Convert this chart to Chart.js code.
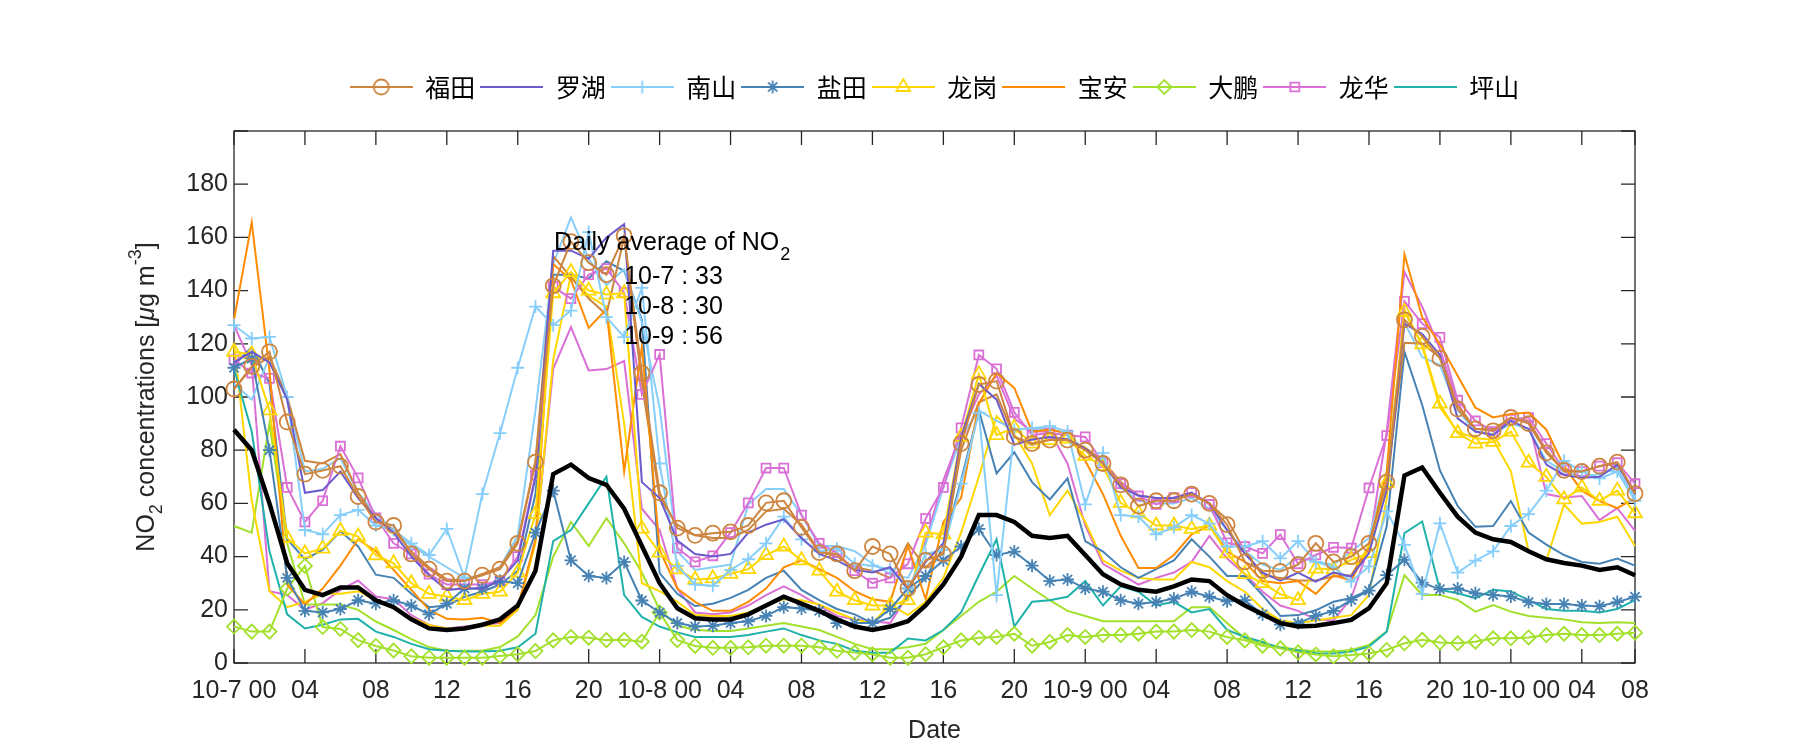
<!DOCTYPE html>
<html>
<head>
<meta charset="utf-8">
<script src="https://cdn.jsdelivr.net/npm/chart.js@4.4.1/dist/chart.umd.min.js"></script>
<style>
  body { margin: 0; background: #fff; }
</style>
</head>
<body>
<canvas id="myChart" width="1800" height="750"></canvas>
<script>
const hours = Array.from({ length: 80 }, (_, i) => i);
const tickHours = [0, 4, 8, 12, 16, 20, 24, 28, 32, 36, 40, 44, 48, 52, 56, 60, 64, 68, 72, 76, 79];
const tickLabels = ["10-7 00", "04", "08", "12", "16", "20", "10-8 00", "04", "08", "12", "16", "20",
  "10-9 00", "04", "08", "12", "16", "20", "10-10 00", "04", "08"];

// station series, hourly from 10-7 00
const futian = [
  103, 111.5, 117, 90.6, 71, 72.4, 74, 62.6, 53, 51.7,
  41, 35.3, 30.8, 30.8, 33, 35.3, 45, 75.5, 141.8, 158.4,
  150.5, 146, 160.6, 109, 64, 50.7, 48, 48.8, 49.3, 51.7,
  60.2, 61, 51, 41.5, 41, 34.7, 43.8, 41, 28, 38.6,
  41, 82.5, 104.7, 106, 85, 82.5, 83.8, 83.8, 80, 75,
  67, 59, 61, 61, 63.5, 60, 52, 38, 34.7, 34.4,
  37, 45, 38, 40, 45, 68, 129, 122.8, 114.5, 95.5,
  88, 87.3, 92.3, 90, 79, 72.4, 72, 74, 75.5, 63.7];
const futian2 = [
  103, 111, 115, 100, 76, 75, 78.5, 64, 54, 50,
  42, 36, 31.5, 31, 33.5, 36, 46, 76, 153, 145,
  137, 131, 160, 105, 62, 52, 48, 47, 47, 50,
  57, 58, 52, 42, 40, 36, 34.7, 32, 45, 36,
  42, 80, 98, 101, 85, 82, 84, 84, 81, 76,
  68, 63, 62, 62, 63, 60, 54, 42, 33, 32,
  31, 31, 32.5, 33, 44, 68, 120.4, 120, 115, 97,
  88, 88, 92, 91, 80, 72, 72, 74, 75, 64];
const luohu = [
  113, 117, 113, 99, 64, 65, 72, 62, 54.5, 49,
  40, 33, 27.5, 28, 28, 31, 38.6, 70, 155, 155,
  152, 160, 165, 68, 62, 46, 41, 40, 41, 49,
  52, 54, 47, 41, 38.6, 35, 34, 36, 28, 38,
  45, 85, 105, 99, 82, 84, 85, 84, 80.5, 75,
  66, 63, 62, 62, 64, 60, 50, 41, 34, 31,
  34, 30.6, 34, 32.5, 41.3, 65, 127.6, 123.7, 115.8, 92,
  87, 85.7, 91, 88, 74.6, 70.7, 69.6, 70, 74.6, 63.5];
const nanshan = [
  127, 122, 122.6, 100, 50, 48.4, 55.6, 57.6, 51.7, 50,
  45, 40.6, 50.4, 32, 63.5, 86.4, 111, 134, 127, 132.5,
  162, 130, 122.5, 141, 75, 36.5, 29.5, 29, 35, 39,
  45, 55, 46.5, 42, 43, 37.3, 36.6, 35.3, 28, 41,
  42.5, 67.4, 94, 25.5, 87.6, 88.3, 89, 87, 59.6, 79,
  55.6, 55, 48.4, 51, 55.6, 52.4, 43.8, 43.8, 45.8, 39.3,
  45.8, 38, 36, 30.6, 36.3, 57, 44.4, 26, 52.5, 34,
  38.5, 42, 51.5, 56, 64.8, 76, 72, 69.4, 72, 61];
const nanshan2 = [
  105, 99, 115, 100, 72, 73, 77, 64, 56, 50,
  44, 40, 36, 32, 33, 36, 48, 95, 150, 167.5,
  152, 142, 148, 128, 96, 42, 35, 36, 37, 59.6,
  65.4, 65.4, 55.6, 44, 44, 42, 37.3, 33.4, 32, 44.5,
  66, 85, 95, 91, 88, 88, 88, 86, 80, 76,
  66, 61, 60, 60, 62, 58, 50, 42, 37, 35,
  40, 38, 37, 42, 47, 72, 128, 115, 112, 95,
  87, 86, 90, 88, 76, 72, 70, 71, 73, 62];
const yantian = [
  111, 114.5, 80, 32, 19.6, 19, 20.3, 23.6, 22.3, 23.6,
  21.6, 18.3, 22.3, 28, 28, 30.8, 30, 49, 64.8, 38.6,
  32.7, 32, 38, 23.5, 19, 15, 13.7, 14, 15, 15.7,
  17.7, 21, 20.5, 19.6, 15, 15, 15, 20.3, 28, 32.7,
  38.6, 43.8, 50.4, 40.6, 41.9, 36.6, 30.8, 31.4, 28, 26.8,
  23.6, 22.3, 22.9, 24.2, 26.8, 24.9, 23.2, 23.6, 18.3, 14.4,
  15, 17.7, 19.6, 23.7, 27.2, 33, 38.8, 30.2, 27.7, 28,
  26.2, 25.6, 25, 22.9, 22.2, 22.2, 21.6, 21.3, 22.9, 24.9];
const yantian2 = [
  112, 118.7, 105, 46.5, 39, 42.5, 49.5, 43.8, 33.2, 32,
  26, 21, 21.6, 24.9, 26.8, 29.5, 34.7, 63.5, 146, 146,
  144.6, 151, 147.4, 129, 33.8, 26, 21.4, 22.3, 24.5, 27.5,
  32, 34.7, 27.5, 23.6, 20.3, 18.3, 15, 17, 25, 32,
  43.8, 68.7, 95, 71.3, 79.2, 68, 61.5, 69.4, 45.8, 41.9,
  36, 32, 35.3, 38.6, 46.5, 40, 32.7, 32.7, 25.5, 17.7,
  18, 19.8, 23, 24.4, 27.5, 51.4, 117, 97, 72.4, 59,
  51.2, 51.5, 60.9, 49, 44.5, 40.6, 38, 37.3, 39.3, 36.6];
const longgang = [
  117, 116, 95, 47, 41.2, 43, 49.7, 47.5, 40.5, 37.5,
  30, 26, 25, 23.6, 26, 26.8, 34, 56, 139, 147,
  140, 138.5, 139, 50.5, 41.5, 35.2, 31.4, 31.8, 33.5, 35.3,
  40.6, 43.8, 38.6, 34.7, 26.8, 23.6, 21.6, 21.6, 23.6, 49,
  48.4, 85, 108.5, 85.7, 88.4, 82.5, 83.8, 84.4, 77.9, 74,
  60.2, 56.3, 51.7, 51.7, 50.4, 51.7, 41.2, 33.4, 30, 25.9,
  23.6, 35.5, 35.2, 38.8, 41.3, 67.7, 132, 119.8, 97.5, 86.4,
  82.5, 83.1, 87, 75.3, 70, 61.5, 66, 61, 64.8, 56.3];
const longgang2 = [
  120, 61, 27, 21, 23, 26, 26, 27, 23.7, 21,
  17, 14.3, 13, 13, 14, 14, 20, 45, 114, 146,
  138, 134, 90, 30, 27, 23, 18, 17.7, 17.7, 19,
  21.6, 24, 23.6, 22, 19, 16.4, 15, 22, 18, 23,
  32, 49, 70, 92.8, 86, 75, 55.6, 64.8, 53, 38.6,
  34.7, 32, 31.4, 31.4, 38, 36, 30.8, 26.8, 20.3, 16,
  15, 16, 17, 18, 25.6, 62, 132.8, 119, 96, 87,
  84.5, 84, 72, 42, 38.6, 59.6, 52.4, 53, 55, 44];
const baoan = [
  129, 165.6, 110, 29.5, 22, 28, 36.6, 46.5, 42, 35,
  27.5, 20, 16.6, 16.4, 17, 15, 21, 46.5, 150, 144,
  126, 133, 72, 119, 42.5, 28, 23, 19.6, 19.6, 23,
  28, 36, 38.6, 35.3, 32, 27, 24, 23, 44, 24,
  53, 62, 97.5, 109, 103.4, 87, 87.7, 86.4, 76, 63.5,
  47.8, 35.7, 35.7, 40.6, 48.4, 51.7, 41.9, 38, 30.8, 30,
  30.8, 26, 33, 31, 43.8, 72, 153.6, 130, 119.8, 108,
  96, 92.3, 93.6, 94.2, 87.7, 74, 64.8, 60.9, 58.2, 62];
const dapeng = [
  13.7, 11.8, 11.8, 28, 36.5, 13.5, 12.8, 8.6, 6.4, 4.7,
  2.5, 2, 2, 2, 2, 2.6, 3.3, 4.5, 8.5, 9.8,
  9.5, 8.6, 8.7, 8, 19, 8.6, 6.4, 5.7, 5.7, 5.9,
  6.5, 6.5, 6.5, 5.9, 4.6, 3.9, 3.3, 2, 2, 3.3,
  5.9, 8.5, 9.5, 9.8, 11, 6.5, 7.9, 10.5, 9.8, 10.5,
  10.5, 11, 11.8, 11.8, 12.4, 11.8, 9.8, 8.5, 6.5, 5.5,
  4, 3.2, 2.5, 3, 3.6, 4.9, 7.4, 8.7, 7.7, 7.4,
  8, 9.3, 9.3, 9.6, 10.5, 11, 10.5, 10.5, 11, 11.4];
const dapeng2 = [
  51.5, 49, 90, 45, 22, 22, 22, 20, 15.6, 12.4,
  9, 6, 4.6, 4.6, 4.6, 6, 10, 18, 40, 53,
  44, 54.4, 45, 34, 20, 14, 12.5, 12, 12, 13,
  14, 15, 13.7, 12.4, 9.8, 7.2, 5.2, 5.2, 5.9, 7.2,
  12.4, 17.7, 23, 26.8, 32.7, 28, 23.6, 19.6, 17.7, 15.7,
  15.7, 15.7, 15.7, 15.7, 21, 21, 15, 9.2, 7.2, 6,
  5, 4.4, 4.3, 4.9, 6.8, 11.8, 33, 25.6, 25.6, 23.7,
  19.3, 21.8, 19.3, 17.7, 17, 16.4, 15.3, 15, 15.3, 15];
const longhua = [
  114, 109, 107, 66, 53, 61, 81.5, 69.6, 54.6, 45,
  41, 33.4, 29.5, 29.5, 29.5, 30.8, 40, 70.7, 141.5, 137,
  146, 148.3, 139.2, 101, 116, 43.2, 38, 40.3, 49, 60.2,
  73.3, 73.3, 55.6, 45, 41.5, 34.7, 30, 32, 37.3, 54.3,
  66, 88.4, 115.8, 110.6, 94.2, 85.7, 86.4, 85.7, 85, 75.3,
  67.4, 62.8, 59.6, 62.2, 64.1, 59.6, 45.2, 43.8, 41.2, 48.3,
  37.3, 40.6, 43.5, 43.2, 65.8, 85.5, 136, 127.6, 122.4, 98.8,
  91, 87, 91.6, 92.3, 82.5, 72.6, 72, 74, 75.3, 67.4];
const longhua2 = [
  127, 112, 27, 25.6, 20, 22.5, 27.5, 31, 25, 24,
  18, 14.3, 13, 13.7, 14.4, 15, 20, 46, 110.6, 126.3,
  110, 110.5, 113.5, 58, 50, 28, 19, 18.3, 19, 21.6,
  25.5, 28.8, 25.5, 21.6, 17.7, 16.4, 15.7, 15, 25.5, 46,
  68.7, 86, 101, 108, 92, 87, 87, 75, 51.7, 37.3,
  33.4, 29.5, 32, 34, 38, 47.8, 39.3, 33.4, 26.8, 21.6,
  19.6, 16.4, 16, 24.4, 44, 87, 147, 134, 118, 97.5,
  87, 85.7, 91.6, 91, 63.5, 62.2, 62.8, 53.7, 58.2, 49.7];
const pingshan = [
  110.6, 87, 42, 18.3, 13, 14.4, 16.4, 16.6, 11.8, 9.8,
  7.2, 5.2, 4.6, 4.3, 4.3, 4.6, 5.9, 11, 45.8, 50,
  60, 70, 25.5, 17.3, 13.7, 11.5, 9.8, 9.8, 9.8, 10.5,
  11.8, 13, 10.5, 8.5, 7.2, 4.6, 3.9, 3.9, 9.2, 8.5,
  12.4, 19, 33, 46.5, 13.7, 23, 23.6, 24.9, 30.8, 21.6,
  28.8, 26.8, 21.6, 23, 19, 20.3, 12.4, 9.8, 7.9, 5.6,
  4.7, 3.7, 3.6, 4.3, 6.2, 11.8, 48.8, 53.2, 27.5, 26.2,
  24.4, 27.5, 26.9, 23.6, 20.3, 19.6, 19.6, 19, 20.3, 23.6];
const average = [
  87.7, 80, 60, 37.5, 27.5, 25.5, 28.4, 28.4, 23.6, 21,
  16.4, 13, 12.4, 13, 14.4, 16.4, 21.6, 34.7, 71, 74.6,
  69.5, 67, 58, 44, 30, 20.6, 16.8, 16.4, 16.4, 18.3,
  21.6, 24.9, 22.3, 19.6, 16.4, 13.7, 12.4, 13.7, 15.7, 21.6,
  29.5, 40, 55.6, 55.6, 53, 47.8, 47, 47.8, 40.6, 33.4,
  29.5, 27.5, 26.8, 28.8, 31.4, 30.8, 25.5, 21.6, 18.3, 15,
  13.7, 14, 15, 16.2, 20.6, 30, 70.5, 73.5, 64, 55,
  49, 46.5, 45.5, 42, 39, 37.6, 36.6, 35, 36, 33];

const dayNames = ["10-7", "10-8", "10-9"];
const dayMeans = [33, 30, 56];

const FONT = '"Liberation Sans", Arial, sans-serif';
const AXIS_COLOR = "#262626";

const colorType = {
  futian: "#cd853f",
  luohu: "#6a5acd",
  nanshan: "#87cefa",
  yantian: "#4682b4",
  longgang: "#ffd700",
  baoan: "#ff8c00",
  dapeng: "#a3e02c",
  longhua: "#da70d6",
  pingshan: "#20b2aa",
};

function drawMarker(ctx, style, r, x, y) {
  ctx.beginPath();
  if (style === "circle") {
    ctx.arc(x, y, r, 0, Math.PI * 2);
  } else if (style === "rect") {
    const s = r * Math.SQRT1_2;
    ctx.rect(x - s, y - s, 2 * s, 2 * s);
  } else if (style === "rectRot") {
    ctx.moveTo(x - r, y);
    ctx.lineTo(x, y - r);
    ctx.lineTo(x + r, y);
    ctx.lineTo(x, y + r);
    ctx.closePath();
  } else if (style === "triangle") {
    ctx.moveTo(x, y - r);
    ctx.lineTo(x + r * 0.866, y + r * 0.5);
    ctx.lineTo(x - r * 0.866, y + r * 0.5);
    ctx.closePath();
  } else if (style === "cross" || style === "star") {
    ctx.moveTo(x - r, y);
    ctx.lineTo(x + r, y);
    ctx.moveTo(x, y - r);
    ctx.lineTo(x, y + r);
    if (style === "star") {
      const d = r * Math.SQRT1_2;
      ctx.moveTo(x - d, y - d);
      ctx.lineTo(x + d, y + d);
      ctx.moveTo(x - d, y + d);
      ctx.lineTo(x + d, y - d);
    }
  }
  ctx.stroke();
}

// small canvas with line + marker, used as legend symbol
function legendIcon(ds) {
  const c = document.createElement("canvas");
  c.width = 63;
  c.height = 26;
  const g = c.getContext("2d");
  g.strokeStyle = ds.borderColor;
  g.lineWidth = 2;
  g.beginPath();
  g.moveTo(0, 13);
  g.lineTo(63, 13);
  g.stroke();
  if (ds.pointRadius > 0) {
    g.lineWidth = ds.pointBorderWidth;
    drawMarker(g, ds.pointStyle, ds.pointRadius, 31.5, 13);
  }
  return c;
}

function station(label, values, color, marker, radius, inLegend) {
  return {
    label: label,
    data: values,
    borderColor: color,
    backgroundColor: color,
    borderWidth: 2,
    pointStyle: marker || "circle",
    pointRadius: marker ? radius : 0,
    pointBorderColor: color,
    pointBackgroundColor: "rgba(0,0,0,0)",
    pointBorderWidth: 1.8,
    inLegend: inLegend,
    clip: false,
  };
}

const datasets = [
  {
    label: "average",
    data: average,
    borderColor: "#000",
    borderWidth: 4.5,
    pointRadius: 0,
    inLegend: false,
    clip: false,
  },
  station("福田", futian, colorType.futian, "circle", 7.5, true),
  station("罗湖", luohu, colorType.luohu, null, 0, true),
  station("南山", nanshan, colorType.nanshan, "cross", 6.5, true),
  station("盐田", yantian, colorType.yantian, "star", 6.5, true),
  station("龙岗", longgang, colorType.longgang, "triangle", 8, true),
  station("宝安", baoan, colorType.baoan, null, 0, true),
  station("大鹏", dapeng, colorType.dapeng, "rectRot", 7, true),
  station("龙华", longhua, colorType.longhua, "rect", 6.3, true),
  station("坪山", pingshan, colorType.pingshan, null, 0, true),
  station("福田 2", futian2, colorType.futian, null, 0, false),
  station("南山 2", nanshan2, colorType.nanshan, null, 0, false),
  station("盐田 2", yantian2, colorType.yantian, null, 0, false),
  station("龙岗 2", longgang2, colorType.longgang, null, 0, false),
  station("大鹏 2", dapeng2, colorType.dapeng, null, 0, false),
  station("龙华 2", longhua2, colorType.longhua, null, 0, false),
];

// box + inward ticks like the original axes
const frame = {
  id: "frame",
  beforeDatasetsDraw(chart) {
    const { ctx, chartArea: a, scales } = chart;
    const len = 14;
    ctx.save();
    ctx.strokeStyle = AXIS_COLOR;
    ctx.lineWidth = 1.3;
    ctx.strokeRect(a.left, a.top, a.right - a.left, a.bottom - a.top);
    ctx.beginPath();
    scales.x.ticks.forEach((t) => {
      const px = scales.x.getPixelForValue(t.value);
      ctx.moveTo(px, a.bottom);
      ctx.lineTo(px, a.bottom - len);
      ctx.moveTo(px, a.top);
      ctx.lineTo(px, a.top + len);
    });
    scales.y.ticks.forEach((t) => {
      const py = scales.y.getPixelForValue(t.value);
      ctx.moveTo(a.left, py);
      ctx.lineTo(a.left + len, py);
      ctx.moveTo(a.right, py);
      ctx.lineTo(a.right - len, py);
    });
    ctx.stroke();
    ctx.restore();
  },
  // y title with real sub/superscripts
  afterDraw(chart) {
    const { ctx, chartArea: a } = chart;
    const parts = [
      { t: "NO", f: "25px " + FONT, dy: 0 },
      { t: "2", f: "18px " + FONT, dy: 10 },
      { t: " concentrations [", f: "25px " + FONT, dy: 0 },
      { t: "μ", f: "italic 25px " + FONT, dy: 0 },
      { t: "g m", f: "25px " + FONT, dy: 0 },
      { t: "-3", f: "18px " + FONT, dy: -11 },
      { t: "]", f: "25px " + FONT, dy: 0 },
    ];
    ctx.save();
    let total = 0;
    parts.forEach((p) => {
      ctx.font = p.f;
      p.w = ctx.measureText(p.t).width;
      total += p.w;
    });
    ctx.translate(147, (a.top + a.bottom) / 2);
    ctx.rotate(-Math.PI / 2);
    ctx.fillStyle = AXIS_COLOR;
    ctx.textBaseline = "middle";
    let cx = -total / 2;
    parts.forEach((p) => {
      ctx.font = p.f;
      ctx.fillText(p.t, cx, p.dy);
      cx += p.w;
    });
    ctx.restore();
  },
};

// "Daily average of NO2" note, placed in data coordinates
const note = {
  id: "note",
  afterDatasetsDraw(chart) {
    const { ctx, scales } = chart;
    const x0 = scales.x.getPixelForValue(18.05);
    const x1 = scales.x.getPixelForValue(22.0);
    ctx.save();
    ctx.fillStyle = "#000";
    ctx.textBaseline = "middle";
    ctx.textAlign = "left";
    ctx.font = "25px " + FONT;
    const head = "Daily average of NO";
    const y0 = scales.y.getPixelForValue(158);
    ctx.fillText(head, x0, y0);
    const w = ctx.measureText(head).width;
    ctx.font = "18px " + FONT;
    ctx.fillText("2", x0 + w + 1, y0 + 12);
    ctx.font = "25px " + FONT;
    dayNames.forEach((d, i) => {
      const yy = scales.y.getPixelForValue(145 - i * 11.2);
      ctx.fillText(d + " : " + dayMeans[i], x1, yy);
    });
    ctx.restore();
  },
};

Chart.defaults.font.family = FONT;
Chart.defaults.font.size = 25;
Chart.defaults.color = AXIS_COLOR;

const ctx = document.getElementById("myChart");

new Chart(ctx, {
  type: "line",
  data: { labels: hours, datasets: datasets },
  options: {
    responsive: false,
    animation: false,
    devicePixelRatio: 1,
    layout: { padding: { top: 69.5, right: 165, bottom: 0, left: 0 } },
    elements: { line: { tension: 0 } },
    plugins: {
      tooltip: { enabled: false },
      legend: {
        position: "top",
        fullSize: false,
        labels: {
          usePointStyle: true,
          pointStyleWidth: 63,
          padding: 5,
          color: "#000",
          font: { family: '"Noto Sans CJK SC", "Noto Sans", sans-serif', size: 25 },
          generateLabels: (chart) =>
            chart.data.datasets
              .map((ds, i) => ({ ds, i }))
              .filter((o) => o.ds.inLegend)
              .map((o) => ({
                text: o.ds.label,
                pointStyle: legendIcon(o.ds),
                datasetIndex: o.i,
                fontColor: "#000",
                fillStyle: "rgba(0,0,0,0)",
                strokeStyle: "rgba(0,0,0,0)",
                lineWidth: 0,
                hidden: false,
              })),
        },
      },
    },
    scales: {
      x: {
        type: "linear",
        min: 0,
        max: 79,
        afterBuildTicks: (scale) => {
          scale.ticks = tickHours.map((v) => ({ value: v }));
        },
        afterFit: (scale) => {
          scale.height = 87;
        },
        ticks: {
          autoSkip: false,
          maxRotation: 0,
          padding: 13,
          callback: (value) => {
            const k = tickHours.indexOf(value);
            return k >= 0 ? tickLabels[k] : "";
          },
        },
        grid: { display: false, drawTicks: false },
        border: { display: false },
        title: { display: true, text: "Date", padding: { top: 0, bottom: 4 } },
      },
      xTop: {
        type: "linear",
        position: "top",
        afterFit: (scale) => {
          scale.height = 21.5;
        },
        ticks: { display: false },
        grid: { display: false, drawTicks: false },
        border: { display: false },
      },
      y: {
        min: 0,
        max: 200,
        afterFit: (scale) => {
          scale.width = 234;
        },
        ticks: {
          stepSize: 20,
          padding: 6,
          callback: (value) => (value === 200 ? "" : value),
        },
        grid: { display: false, drawTicks: false },
        border: { display: false },
        title: { display: false },
      },
    },
  },
  plugins: [frame, note],
});
</script>
</body>
</html>
